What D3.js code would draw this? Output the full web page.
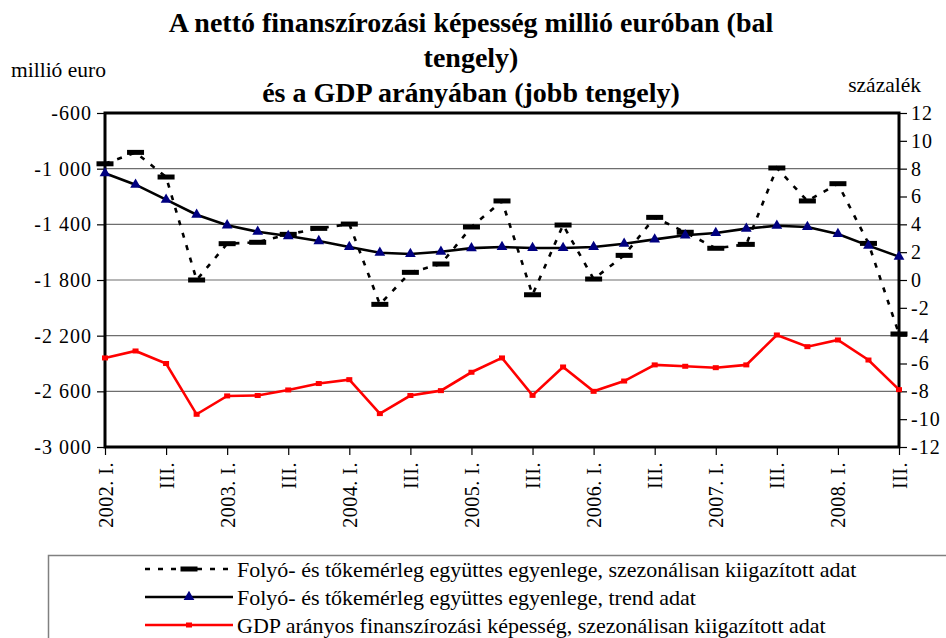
<!DOCTYPE html>
<html>
<head>
<meta charset="utf-8">
<script src="https://cdn.jsdelivr.net/npm/d3@7"></script>
<style>
	body { margin: 0; background: #fff; }
	svg { display: block; }
	text { font-family: 'Liberation Serif', 'Times New Roman', serif; }
	.title { font-size: 28px; font-weight: bold; text-anchor: middle; }
	.unit { font-size: 21.5px; }
	.legend-text { font-size: 22px; }
</style>
</head>
<body>
<svg width="946" height="638"></svg>
<script>
const quarters = [
	'2002. I.', 'II.', 'III.', 'IV.',
	'2003. I.', 'II.', 'III.', 'IV.',
	'2004. I.', 'II.', 'III.', 'IV.',
	'2005. I.', 'II.', 'III.', 'IV.',
	'2006. I.', 'II.', 'III.', 'IV.',
	'2007. I.', 'II.', 'III.', 'IV.',
	'2008. I.', 'II.', 'III.'
];
// millió euro, szezonálisan kiigazított
const seasonal = [-965, -883, -1060, -1800, -1539, -1529, -1472, -1429, -1398, -1975, -1745, -1685, -1419, -1232,
	-1906, -1405, -1793, -1623, -1350, -1457, -1572, -1544, -995, -1232, -1108, -1537, -2188];
// millió euro, trend
const trend = [-1033, -1115, -1223, -1331, -1407, -1453, -1484, -1520, -1563, -1604, -1613, -1597, -1571, -1563,
	-1570, -1570, -1563, -1539, -1508, -1479, -1462, -1431, -1410, -1419, -1469, -1553, -1632];
// GDP százalék (jobb tengely)
const gdpRatio = [-5.6, -5.1, -6.0, -9.65, -8.33, -8.3, -7.9, -7.44, -7.16, -9.6, -8.3, -7.95, -6.63, -5.6,
	-8.29, -6.25, -8.0, -7.26, -6.1, -6.2, -6.3, -6.1, -3.95, -4.79, -4.31, -5.75, -7.88];

const leftTicks = [-600, -1000, -1400, -1800, -2200, -2600, -3000];
const rightTicks = [12, 10, 8, 6, 4, 2, 0, -2, -4, -6, -8, -10, -12];
const titleLines = [
	'A nettó finanszírozási képesség millió euróban (bal',
	'tengely)',
	'és a GDP arányában (jobb tengely)'
];
const legendLabels = [
	'Folyó- és tőkemérleg együttes egyenlege, szezonálisan kiigazított adat',
	'Folyó- és tőkemérleg együttes egyenlege, trend adat',
	'GDP arányos finanszírozási képesség, szezonálisan kiigazított adat'
];

const serif = "'Liberation Serif', 'Times New Roman', serif";
const svg = d3.select('svg').attr('font-family', serif);
const width = +svg.attr('width');
const height = +svg.attr('height');

const huLocale = d3.formatLocale({decimal: ',', thousands: ' ', grouping: [3], currency: ['', ''], minus: '-'});
const fmt = huLocale.format(',d');

const render = () => {
	const margin = {top: 113, right: 47, bottom: 191, left: 105};
	const innerWidth = width - margin.left - margin.right;
	const innerHeight = height - margin.top - margin.bottom;

	const xScale = d3.scalePoint()
		.domain(d3.range(quarters.length))
		.range([0, innerWidth]);

	const yScale = d3.scaleLinear()
		.domain([-3000, -600])
		.range([innerHeight, 0]);

	const y2Scale = d3.scaleLinear()
		.domain([-12, 12])
		.range([innerHeight, 0]);

	const g = svg.append('g')
		.attr('transform', `translate(${margin.left}, ${margin.top})`);

	// rács
	g.selectAll('.grid').data(leftTicks.slice(1, -1))
		.enter().append('line')
			.attr('class', 'grid')
			.attr('x1', 0)
			.attr('x2', innerWidth)
			.attr('y1', d => yScale(d))
			.attr('y2', d => yScale(d))
			.attr('stroke', '#6e6e6e')
			.attr('stroke-width', 1.2);

	const yAxisG = g.append('g')
		.call(d3.axisLeft(yScale).tickValues(leftTicks).tickFormat(fmt).tickSize(8).tickPadding(5));
	yAxisG.select('.domain').remove();

	const y2AxisG = g.append('g')
		.attr('transform', `translate(${innerWidth}, 0)`)
		.call(d3.axisRight(y2Scale).tickValues(rightTicks).tickFormat(d => String(d)).tickSize(8).tickPadding(4));
	y2AxisG.select('.domain').remove();

	const xAxisG = g.append('g')
		.attr('transform', `translate(0, ${innerHeight})`)
		.call(d3.axisBottom(xScale)
			.tickValues(d3.range(0, quarters.length, 2))
			.tickFormat(i => quarters[i])
			.tickSize(8));
	xAxisG.select('.domain').remove();
	xAxisG.selectAll('.tick text')
		.attr('transform', 'rotate(-90)')
		.attr('text-anchor', 'end')
		.attr('dominant-baseline', 'central')
		.attr('x', -15)
		.attr('y', 0)
		.attr('dy', null)
		.attr('letter-spacing', 0.5);

	[yAxisG, y2AxisG, xAxisG].forEach(a => a.attr('font-family', serif).attr('font-size', 20));
	[yAxisG, y2AxisG].forEach(a => a.selectAll('.tick text').attr('letter-spacing', 1));
	g.selectAll('.tick text').attr('fill', '#000');
	g.selectAll('.tick line').attr('stroke', '#000').attr('stroke-width', 1.2);

	// keret
	g.append('rect')
		.attr('width', innerWidth)
		.attr('height', innerHeight)
		.attr('fill', 'none')
		.attr('stroke', '#000')
		.attr('stroke-width', 3);

	const line = scale => d3.line()
		.x((d, i) => xScale(i))
		.y(d => scale(d));

	// GDP arányos
	g.append('path')
		.attr('d', line(y2Scale)(gdpRatio))
		.attr('fill', 'none')
		.attr('stroke', '#ff0000')
		.attr('stroke-width', 2.6);
	g.selectAll('.gdp-mark').data(gdpRatio)
		.enter().append('rect')
			.attr('class', 'gdp-mark')
			.attr('x', (d, i) => xScale(i) - 3)
			.attr('y', d => y2Scale(d) - 2.5)
			.attr('width', 6)
			.attr('height', 5)
			.attr('fill', '#ff0000');

	// szezonálisan kiigazított
	g.append('path')
		.attr('d', line(yScale)(seasonal))
		.attr('fill', 'none')
		.attr('stroke', '#000')
		.attr('stroke-width', 2.6)
		.attr('stroke-dasharray', '5,8');
	g.selectAll('.seas-mark').data(seasonal)
		.enter().append('rect')
			.attr('class', 'seas-mark')
			.attr('x', (d, i) => xScale(i) - 8.5)
			.attr('y', d => yScale(d) - 2.5)
			.attr('width', 17)
			.attr('height', 5)
			.attr('fill', '#000');

	// trend
	g.append('path')
		.attr('d', line(yScale)(trend))
		.attr('fill', 'none')
		.attr('stroke', '#000')
		.attr('stroke-width', 2.6);
	const triangle = d3.symbol().type(d3.symbolTriangle).size(50);
	g.selectAll('.trend-mark').data(trend)
		.enter().append('path')
			.attr('class', 'trend-mark')
			.attr('d', triangle)
			.attr('transform', (d, i) => `translate(${xScale(i)}, ${yScale(d)})`)
			.attr('fill', '#000080');

	// címek
	svg.append('text')
		.attr('class', 'title')
		.selectAll('tspan').data(titleLines)
		.enter().append('tspan')
			.attr('x', 471)
			.attr('y', (d, i) => 32 + i * 35)
			.text(d => d);

	svg.append('text')
		.attr('class', 'unit')
		.attr('x', 11)
		.attr('y', 77)
		.text('millió euro');

	svg.append('text')
		.attr('class', 'unit')
		.attr('x', 921)
		.attr('y', 92)
		.attr('text-anchor', 'end')
		.text('százalék');

	// jelmagyarázat
	const legend = svg.append('g');
	legend.append('rect')
		.attr('x', 48.5)
		.attr('y', 555.5)
		.attr('width', 920)
		.attr('height', 120)
		.attr('fill', 'none')
		.attr('stroke', '#808080')
		.attr('stroke-width', 1.5);

	const rows = legend.selectAll('.legend-row').data(legendLabels)
		.enter().append('g')
			.attr('class', 'legend-row')
			.attr('transform', (d, i) => `translate(145, ${569 + i * 28})`);

	rows.append('line')
		.attr('x1', 0)
		.attr('x2', 88)
		.attr('stroke', (d, i) => i === 2 ? '#ff0000' : '#000')
		.attr('stroke-width', 2.6)
		.attr('stroke-dasharray', (d, i) => i === 0 ? '5,8' : null);

	rows.filter((d, i) => i === 0).append('rect')
		.attr('x', 35.5).attr('y', -2.5).attr('width', 17).attr('height', 5).attr('fill', '#000');
	rows.filter((d, i) => i === 1).append('path')
		.attr('d', triangle)
		.attr('transform', 'translate(44, 0)')
		.attr('fill', '#000080');
	rows.filter((d, i) => i === 2).append('rect')
		.attr('x', 41).attr('y', -2.5).attr('width', 6).attr('height', 5).attr('fill', '#ff0000');

	rows.append('text')
		.attr('class', 'legend-text')
		.attr('x', 92)
		.attr('y', 8)
		.text(d => d);
};

render();
</script>
</body>
</html>
